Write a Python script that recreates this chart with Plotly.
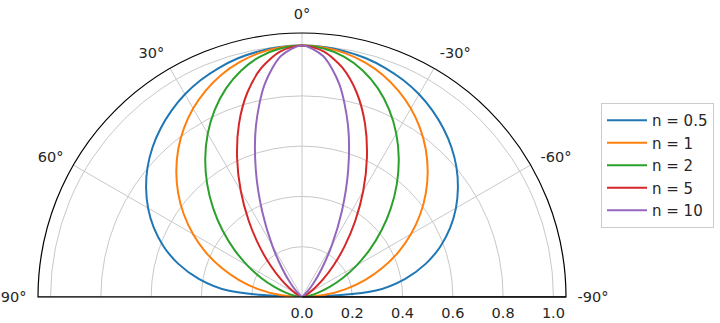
import plotly.graph_objects as go

# Angles (degrees), -90 .. 90 in 5 degree steps
theta = [-90, -85, -80, -75, -70, -65, -60, -55, -50, -45, -40, -35, -30, -25, -20, -15, -10, -5,
         0, 5, 10, 15, 20, 25, 30, 35, 40, 45, 50, 55, 60, 65, 70, 75, 80, 85, 90]

r_n05 = [0.000, 0.295, 0.417, 0.509, 0.585, 0.650, 0.707, 0.757, 0.802, 0.841, 0.875, 0.905, 0.931, 0.952, 0.969, 0.983, 0.992, 0.998,
         1.000, 0.998, 0.992, 0.983, 0.969, 0.952, 0.931, 0.905, 0.875, 0.841, 0.802, 0.757, 0.707, 0.650, 0.585, 0.509, 0.417, 0.295, 0.000]
r_n1 = [0.000, 0.087, 0.174, 0.259, 0.342, 0.423, 0.500, 0.574, 0.643, 0.707, 0.766, 0.819, 0.866, 0.906, 0.940, 0.966, 0.985, 0.996,
        1.000, 0.996, 0.985, 0.966, 0.940, 0.906, 0.866, 0.819, 0.766, 0.707, 0.643, 0.574, 0.500, 0.423, 0.342, 0.259, 0.174, 0.087, 0.000]
r_n2 = [0.000, 0.008, 0.030, 0.067, 0.117, 0.179, 0.250, 0.329, 0.413, 0.500, 0.587, 0.671, 0.750, 0.821, 0.883, 0.933, 0.970, 0.992,
        1.000, 0.992, 0.970, 0.933, 0.883, 0.821, 0.750, 0.671, 0.587, 0.500, 0.413, 0.329, 0.250, 0.179, 0.117, 0.067, 0.030, 0.008, 0.000]
r_n5 = [0.000, 0.000, 0.000, 0.001, 0.005, 0.014, 0.031, 0.062, 0.110, 0.177, 0.264, 0.369, 0.487, 0.611, 0.733, 0.841, 0.926, 0.981,
        1.000, 0.981, 0.926, 0.841, 0.733, 0.611, 0.487, 0.369, 0.264, 0.177, 0.110, 0.062, 0.031, 0.014, 0.005, 0.001, 0.000, 0.000, 0.000]
r_n10 = [0.000, 0.000, 0.000, 0.000, 0.000, 0.000, 0.001, 0.004, 0.012, 0.031, 0.070, 0.136, 0.237, 0.374, 0.537, 0.707, 0.858, 0.962,
         1.000, 0.962, 0.858, 0.707, 0.537, 0.374, 0.237, 0.136, 0.070, 0.031, 0.012, 0.004, 0.001, 0.000, 0.000, 0.000, 0.000, 0.000, 0.000]

series_names = ["n = 0.5", "n = 1", "n = 2", "n = 5", "n = 10"]
series_r = [r_n05, r_n1, r_n2, r_n5, r_n10]
colors = ["#1f77b4", "#ff7f0e", "#2ca02c", "#d62728", "#9467bd"]

angle_ticks = [90, 60, 30, 0, -30, -60, -90]
angle_labels = ["90°", "60°", "30°", "0°", "-30°", "-60°", "-90°"]
radial_ticks = [0.0, 0.2, 0.4, 0.6, 0.8, 1.0]
radial_labels = ["0.0", "0.2", "0.4", "0.6", "0.8", "1.0"]
r_max = 1.05

fig = go.Figure()

# black baseline (frame) across the diameter
fig.add_trace(go.Scatterpolar(
    theta=[90, 0, -90], r=[r_max, 0, r_max], mode="lines",
    line=dict(color="black", width=1.2), showlegend=False,
    hoverinfo="skip", cliponaxis=False,
))

for i, (name, rv, c) in enumerate(zip(series_names, series_r, colors)):
    fig.add_trace(go.Scatterpolar(
        theta=theta, r=rv, mode="lines", name=name,
        line=dict(color=c, width=2, shape="spline", smoothing=0.8),
        legendgroup=f"g{i}",
    ))

fig.update_layout(
    width=720, height=323,
    margin=dict(l=0, r=0, t=0, b=0),
    paper_bgcolor="white",
    font=dict(family="DejaVu Sans", size=14.5, color="#262626"),
    polar=dict(
        domain=dict(x=[38 / 720, 566 / 720], y=[26 / 323, 290 / 323]),
        sector=[0, 180],
        bgcolor="white",
        angularaxis=dict(
            rotation=90, direction="counterclockwise",
            tickmode="array", tickvals=angle_ticks, ticktext=angle_labels,
            showline=True, linecolor="black", linewidth=1.2,
            showgrid=True, gridcolor="#c8c8c8", gridwidth=1,
            ticks="outside", ticklen=8, tickcolor="rgba(0,0,0,0)",
            tickfont=dict(size=14.5, color="#262626"),
        ),
        radialaxis=dict(
            range=[0, r_max], angle=0, side="clockwise",
            tickmode="array", tickvals=radial_ticks, ticktext=radial_labels,
            showline=True, linecolor="black", linewidth=1.2,
            showgrid=True, gridcolor="#c8c8c8", gridwidth=1,
            ticks="outside", ticklen=3, tickcolor="rgba(0,0,0,0)",
            tickangle=0,
            tickfont=dict(size=14.5, color="#262626"),
        ),
    ),
    legend=dict(
        x=601 / 720, y=(323 - 103) / 323, xanchor="left", yanchor="top",
        bgcolor="white", bordercolor="#cccccc", borderwidth=1,
        font=dict(size=15, color="#262626"),
        tracegroupgap=0, itemwidth=40,
    ),
)

fig.write_html("out.html")
